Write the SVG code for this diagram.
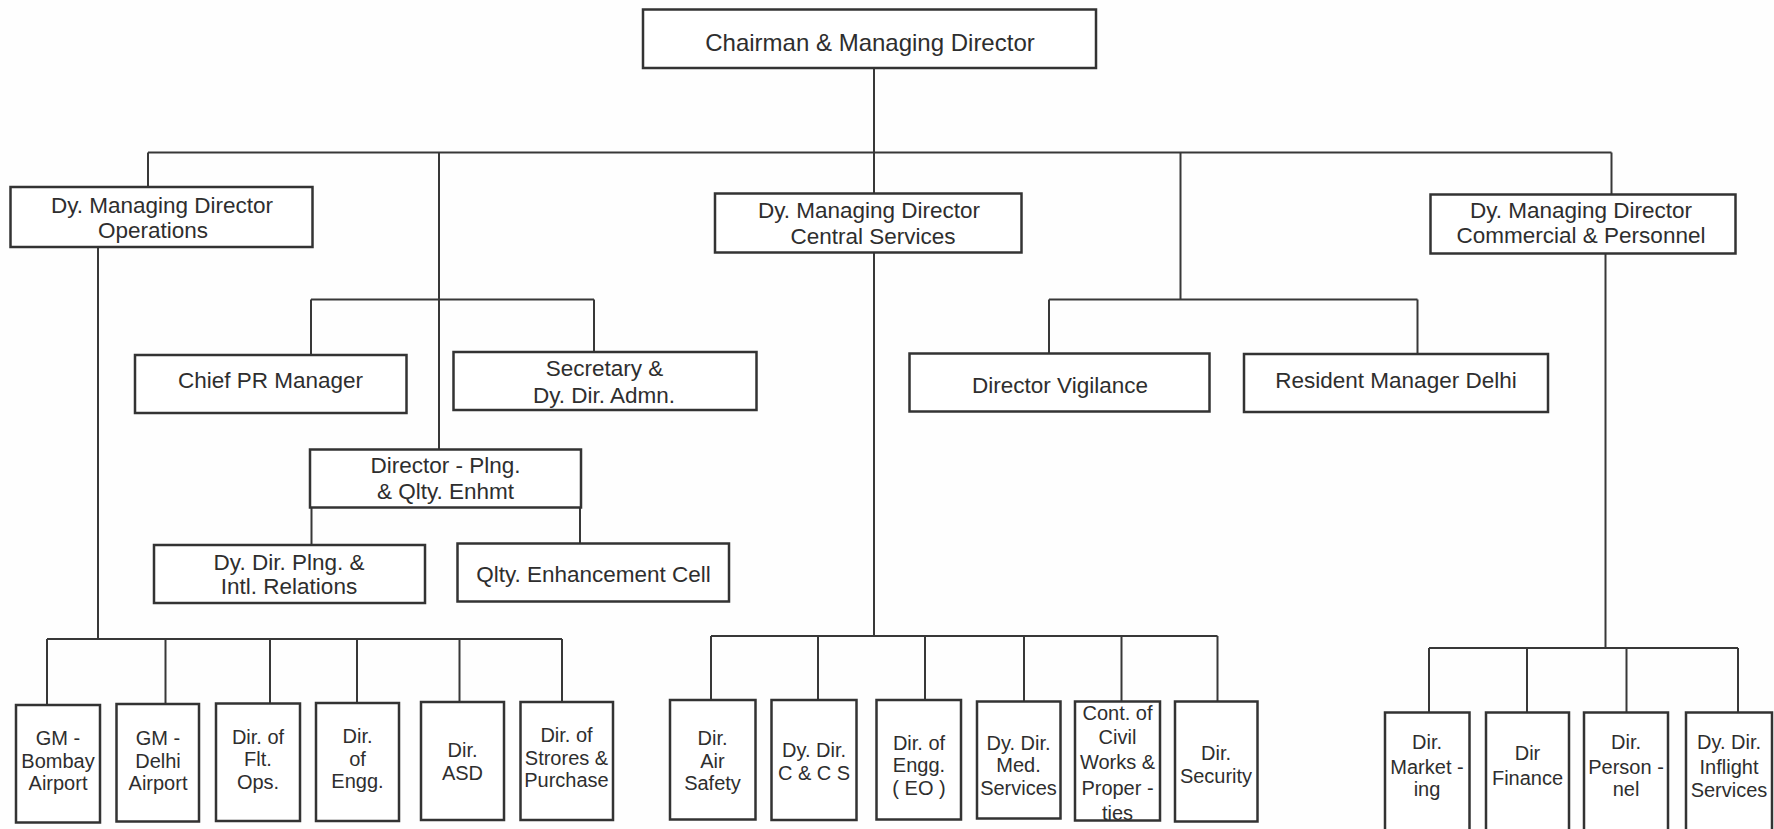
<svg xmlns="http://www.w3.org/2000/svg" width="1774" height="829" viewBox="0 0 1774 829">
<style>
.bg{fill:#fefefe}
.box{fill:#fff;stroke:#333;stroke-width:2.5}
.ln{fill:none;stroke:#383838;stroke-width:2}
text{font-family:"Liberation Sans",Arial,sans-serif;fill:#2e2e2e;text-anchor:middle}
.t24{font-size:24px}
.t22{font-size:22.5px}
.t20{font-size:20px}
</style>
<rect class="bg" x="0" y="0" width="1774" height="829"/>
<g id="connectors">
<path class="ln" d="M874,68 V193.5 M874,252.5 V636"/>
<path class="ln" d="M148,152.5 H1611.5 M148,152.5 V187 M439,152.5 V449.5 M1180.5,152.5 V299.5 M1611.5,152.5 V194.5"/>
<path class="ln" d="M311,299.5 H594 M311,299.5 V355 M594,299.5 V352"/>
<path class="ln" d="M1049,299.5 H1417.5 M1049,299.5 V353.5 M1417.5,299.5 V354"/>
<path class="ln" d="M311.5,507.5 V545 M580,507.5 V543.5"/>
<path class="ln" d="M98,247 V639 M47,639 H562 M47,639 V705 M165.5,639 V704 M270,639 V703.5 M357,639 V703 M459.5,639 V702 M562,639 V702"/>
<path class="ln" d="M711,636 H1217.5 M711,636 V700 M818,636 V700 M925,636 V700 M1024,636 V701.5 M1121.5,636 V701.5 M1217.5,636 V701.5"/>
<path class="ln" d="M1605.5,253.5 V648 M1429,648 H1738 M1429,648 V712.5 M1527,648 V712.5 M1626.5,648 V712.5 M1738,648 V712.5"/>
</g>
<g id="chairman"><rect class="box" x="643" y="9.5" width="453" height="58.5"/><text class="t24" x="870" y="51">Chairman &amp; Managing Director</text></g>
<g id="dmd-operations"><rect class="box" x="10.5" y="187" width="302" height="60"/><text class="t22" x="162" y="212.5">Dy. Managing Director</text><text class="t22" x="153" y="237.5">Operations</text></g>
<g id="dmd-central"><rect class="box" x="715" y="193.5" width="306.5" height="59"/><text class="t22" x="869" y="218">Dy. Managing Director</text><text class="t22" x="873" y="244">Central Services</text></g>
<g id="dmd-commercial"><rect class="box" x="1430.5" y="194.5" width="305" height="59"/><text class="t22" x="1581" y="218">Dy. Managing Director</text><text class="t22" x="1581" y="243">Commercial &amp; Personnel</text></g>
<g id="chief-pr"><rect class="box" x="135" y="355" width="271.5" height="58"/><text class="t22" x="270.5" y="388">Chief PR Manager</text></g>
<g id="secretary"><rect class="box" x="453.5" y="352" width="303" height="58"/><text class="t22" x="604.5" y="376">Secretary &amp;</text><text class="t22" x="604" y="403">Dy. Dir. Admn.</text></g>
<g id="director-plng"><rect class="box" x="310" y="449.5" width="271" height="58"/><text class="t22" x="445.5" y="473">Director - Plng.</text><text class="t22" x="445.5" y="499">&amp; Qlty. Enhmt</text></g>
<g id="dy-dir-plng"><rect class="box" x="154" y="545" width="271" height="58"/><text class="t22" x="289" y="570">Dy. Dir. Plng. &amp;</text><text class="t22" x="289" y="594">Intl. Relations</text></g>
<g id="qlty-cell"><rect class="box" x="457.5" y="543.5" width="271.5" height="58"/><text class="t22" x="593.5" y="582">Qlty. Enhancement Cell</text></g>
<g id="director-vigilance"><rect class="box" x="909.5" y="353.5" width="300" height="58"/><text class="t22" x="1060" y="393">Director Vigilance</text></g>
<g id="resident-manager"><rect class="box" x="1244" y="354" width="304" height="58"/><text class="t22" x="1396" y="388">Resident Manager Delhi</text></g>
<g id="gm-bombay"><rect class="box" x="16" y="705" width="84" height="117.5"/><text class="t20" x="58" y="745">GM -</text><text class="t20" x="58" y="767.5">Bombay</text><text class="t20" x="58" y="790">Airport</text></g>
<g id="gm-delhi"><rect class="box" x="116.5" y="704" width="82.5" height="117.5"/><text class="t20" x="158" y="745">GM -</text><text class="t20" x="158" y="767.5">Delhi</text><text class="t20" x="158" y="790">Airport</text></g>
<g id="dir-flt-ops"><rect class="box" x="216" y="703.5" width="84" height="117.5"/><text class="t20" x="258" y="743.5">Dir. of</text><text class="t20" x="258" y="766">Flt.</text><text class="t20" x="258" y="788.5">Ops.</text></g>
<g id="dir-engg"><rect class="box" x="316" y="703" width="83" height="118"/><text class="t20" x="357.5" y="743">Dir.</text><text class="t20" x="357.5" y="765.5">of</text><text class="t20" x="357.5" y="788">Engg.</text></g>
<g id="dir-asd"><rect class="box" x="421" y="702" width="83" height="118"/><text class="t20" x="462.5" y="756.5">Dir.</text><text class="t20" x="462.5" y="779.5">ASD</text></g>
<g id="dir-stores"><rect class="box" x="520.5" y="702" width="92.5" height="118"/><text class="t20" x="566.5" y="742">Dir. of</text><text class="t20" x="566.5" y="764.5">Strores &amp;</text><text class="t20" x="566.5" y="787">Purchase</text></g>
<g id="dir-air-safety"><rect class="box" x="670" y="700" width="85.5" height="119.5"/><text class="t20" x="712.5" y="745">Dir.</text><text class="t20" x="712.5" y="767.5">Air</text><text class="t20" x="712.5" y="790">Safety</text></g>
<g id="dy-dir-ccs"><rect class="box" x="771.5" y="700" width="85" height="120"/><text class="t20" x="814" y="757">Dy. Dir.</text><text class="t20" x="814" y="779.5">C &amp; C S</text></g>
<g id="dir-engg-eo"><rect class="box" x="876.5" y="700" width="84.5" height="119.5"/><text class="t20" x="919" y="749.5">Dir. of</text><text class="t20" x="919" y="772">Engg.</text><text class="t20" x="919" y="794.5">( EO )</text></g>
<g id="dy-dir-med"><rect class="box" x="977" y="701.5" width="83.5" height="117"/><text class="t20" x="1018.5" y="749.5">Dy. Dir.</text><text class="t20" x="1018.5" y="772">Med.</text><text class="t20" x="1018.5" y="794.5">Services</text></g>
<g id="cont-civil"><rect class="box" x="1075" y="701.5" width="85" height="119"/><text class="t20" x="1117.5" y="720">Cont. of</text><text class="t20" x="1117.5" y="743.5">Civil</text><text class="t20" x="1117.5" y="769">Works &amp;</text><text class="t20" x="1117.5" y="795">Proper -</text><text class="t20" x="1117.5" y="819.5">ties</text></g>
<g id="dir-security"><rect class="box" x="1175" y="701.5" width="82.5" height="120"/><text class="t20" x="1216" y="760">Dir.</text><text class="t20" x="1216" y="783">Security</text></g>
<g id="dir-marketing"><rect class="box" x="1385" y="712.5" width="84.5" height="125"/><text class="t20" x="1427" y="748.5">Dir.</text><text class="t20" x="1427" y="773.5">Market -</text><text class="t20" x="1427" y="796">ing</text></g>
<g id="dir-finance"><rect class="box" x="1486" y="712.5" width="83" height="125"/><text class="t20" x="1527.5" y="760">Dir</text><text class="t20" x="1527.5" y="785">Finance</text></g>
<g id="dir-personnel"><rect class="box" x="1584" y="712.5" width="84" height="125"/><text class="t20" x="1626" y="748.5">Dir.</text><text class="t20" x="1626" y="773.5">Person -</text><text class="t20" x="1626" y="796">nel</text></g>
<g id="dy-dir-inflight"><rect class="box" x="1686" y="712.5" width="86" height="125"/><text class="t20" x="1729" y="748.5">Dy. Dir.</text><text class="t20" x="1729" y="773.5">Inflight</text><text class="t20" x="1729" y="796.5">Services</text></g>
</svg>
